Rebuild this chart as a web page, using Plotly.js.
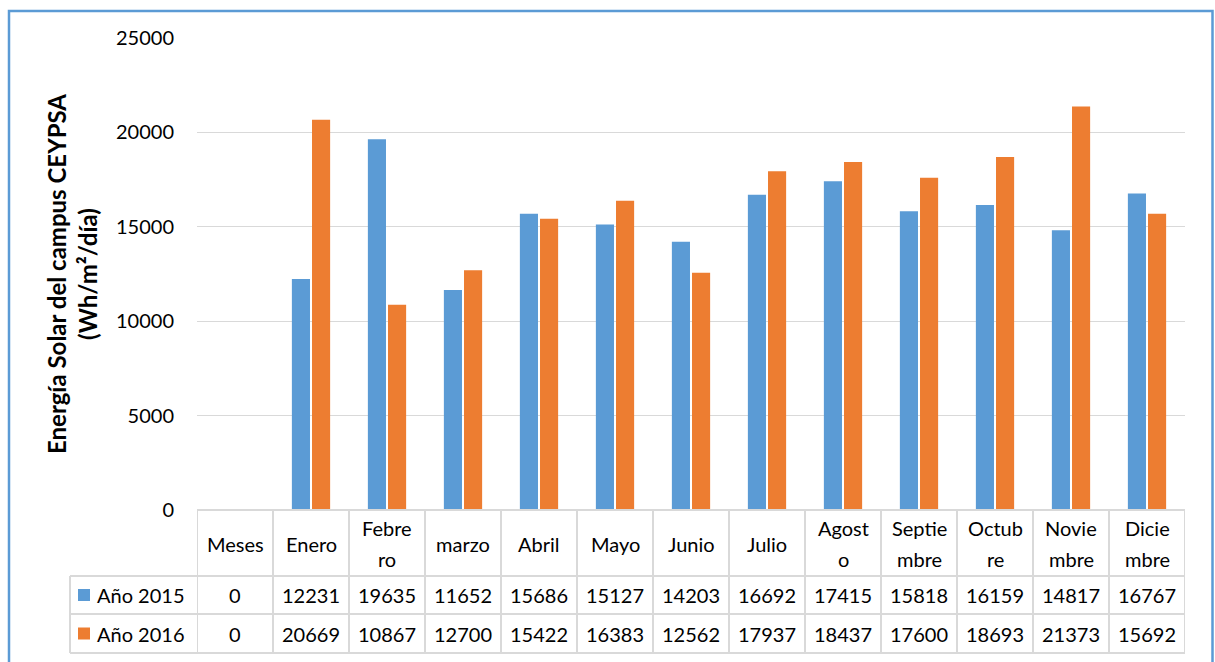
<!DOCTYPE html>
<html>
<head>
<meta charset="utf-8">
<script src="https://cdn.plot.ly/plotly-3.0.1.min.js"></script>
<style>
  html, body { margin: 0; padding: 0; background: #fff; }
  #chart { width: 1215px; height: 662px; }
</style>
</head>
<body>
<div id="chart"></div>
<script>
// ---- data ----
const categories = ["Meses", "Enero", "Febrero", "marzo", "Abril", "Mayo", "Junio", "Julio", "Agosto", "Septiembre", "Octubre", "Noviembre", "Diciembre"];
const headerLabels = [["Meses"], ["Enero"], ["Febre", "ro"], ["marzo"], ["Abril"], ["Mayo"], ["Junio"], ["Julio"], ["Agost", "o"], ["Septie", "mbre"], ["Octub", "re"], ["Novie", "mbre"], ["Dicie", "mbre"]];
const seriesNames = ["Año 2015", "Año 2016"];
const values2015 = [0, 12231, 19635, 11652, 15686, 15127, 14203, 16692, 17415, 15818, 16159, 14817, 16767];
const values2016 = [0, 20669, 10867, 12700, 15422, 16383, 12562, 17937, 18437, 17600, 18693, 21373, 15692];
const yTicks = [0, 5000, 10000, 15000, 20000, 25000];

// ---- style ----
const W = 1215, H = 662;
const L = 197, R = 1185, T = 38, B = 510;
const colors = ["#5b9bd5", "#ed7d31"];
const FONT = "Lato, 'Open Sans', sans-serif";
const FS = 20;
const gridColor = "#d9d9d9";

const px = x => (x - L) / (R - L);
const py = y => (B - y) / (B - T);

const traces = [values2015, values2016].map((vals, i) => ({
  type: "bar",
  x: categories,
  y: vals,
  name: seriesNames[i],
  marker: { color: colors[i] },
  hoverinfo: "x+y+name"
}));

const shapes = [];
const annotations = [];

// outer chart border
shapes.push({ type: "rect", xref: "paper", yref: "paper",
  x0: px(9), x1: px(1212.5), y0: py(670), y1: py(11),
  line: { color: "#5b9bd5", width: 2.5 }, fillcolor: "rgba(0,0,0,0)", layer: "above" });

// table geometry (pixel rows)
const rowTop = 510, rowH1 = 576, rowH2 = 614, rowBot = 653;
const legLeft = 70;
const tblLine = { color: gridColor, width: 2 };

// horizontal table lines
shapes.push({ type: "line", xref: "paper", yref: "paper", x0: 0, x1: 1, y0: py(rowTop), y1: py(rowTop), line: tblLine });
[rowH1, rowH2, rowBot].forEach(y => shapes.push({ type: "line", xref: "paper", yref: "paper",
  x0: px(legLeft), x1: 1, y0: py(y), y1: py(y), line: tblLine }));
// vertical table lines at category boundaries
for (let i = 0; i <= categories.length; i++) {
  shapes.push({ type: "line", xref: "x", yref: "paper", x0: i - 0.5, x1: i - 0.5,
    y0: py(rowTop), y1: py(rowBot), line: tblLine });
}
// legend column left border
shapes.push({ type: "line", xref: "paper", yref: "paper", x0: px(legLeft), x1: px(legLeft),
  y0: py(rowH1), y1: py(rowBot), line: tblLine });

// header labels
const lineStep = 31;
const headerMid = (rowTop + rowH1) / 2 + 0.5;
headerLabels.forEach((lines, i) => {
  lines.forEach((t, k) => {
    const yc = headerMid + (k - (lines.length - 1) / 2) * lineStep;
    annotations.push({ xref: "x", yref: "paper", x: i, y: py(yc), text: t, showarrow: false,
      xanchor: "center", yanchor: "middle", font: { family: FONT, size: FS, color: "#000" } });
  });
});

// data rows
const rowsY = [(rowH1 + rowH2) / 2, (rowH2 + rowBot) / 2];
[values2015, values2016].forEach((vals, r) => {
  vals.forEach((v, i) => {
    annotations.push({ xref: "x", yref: "paper", x: i, y: py(rowsY[r]), text: String(v), showarrow: false,
      xanchor: "center", yanchor: "middle", font: { family: FONT, size: FS, color: "#000" } });
  });
  // legend key
  shapes.push({ type: "rect", xref: "paper", yref: "paper",
    x0: px(78), x1: px(90), y0: py(rowsY[r] + 6), y1: py(rowsY[r] - 6),
    fillcolor: colors[r], line: { width: 0 } });
  annotations.push({ xref: "paper", yref: "paper", x: px(95), y: py(rowsY[r]), text: seriesNames[r],
    showarrow: false, xanchor: "left", yanchor: "middle", font: { family: FONT, size: FS, color: "#000" } });
});

const layout = {
  width: W, height: H,
  margin: { l: L, r: W - R, t: T, b: H - B, pad: 0 },
  paper_bgcolor: "#fff", plot_bgcolor: "#fff",
  showlegend: false,
  barmode: "group",
  bargap: 0.47,
  bargroupgap: 0.1,
  font: { family: FONT, size: FS, color: "#000" },
  xaxis: {
    type: "category",
    categoryarray: categories,
    range: [-0.5, categories.length - 0.5],
    showticklabels: false, ticks: "", showgrid: false, zeroline: false, showline: false,
    fixedrange: true
  },
  yaxis: {
    range: [0, 25000],
    tickvals: yTicks,
    ticktext: yTicks.map(String),
    showgrid: true, gridcolor: gridColor, gridwidth: 1,
    zeroline: false, showline: false, ticks: "",
    ticklabelstandoff: 22,
    tickfont: { family: FONT, size: FS, color: "#000" },
    title: { text: "<b>Energía Solar del campus CEYPSA<br>(Wh/m²/día)</b>",
      font: { family: FONT, size: 24, color: "#000" }, standoff: 11 },
    automargin: false,
    fixedrange: true
  },
  shapes: shapes,
  annotations: annotations
};

Plotly.newPlot("chart", traces, layout, { displayModeBar: false, staticPlot: true });
</script>
</body>
</html>
